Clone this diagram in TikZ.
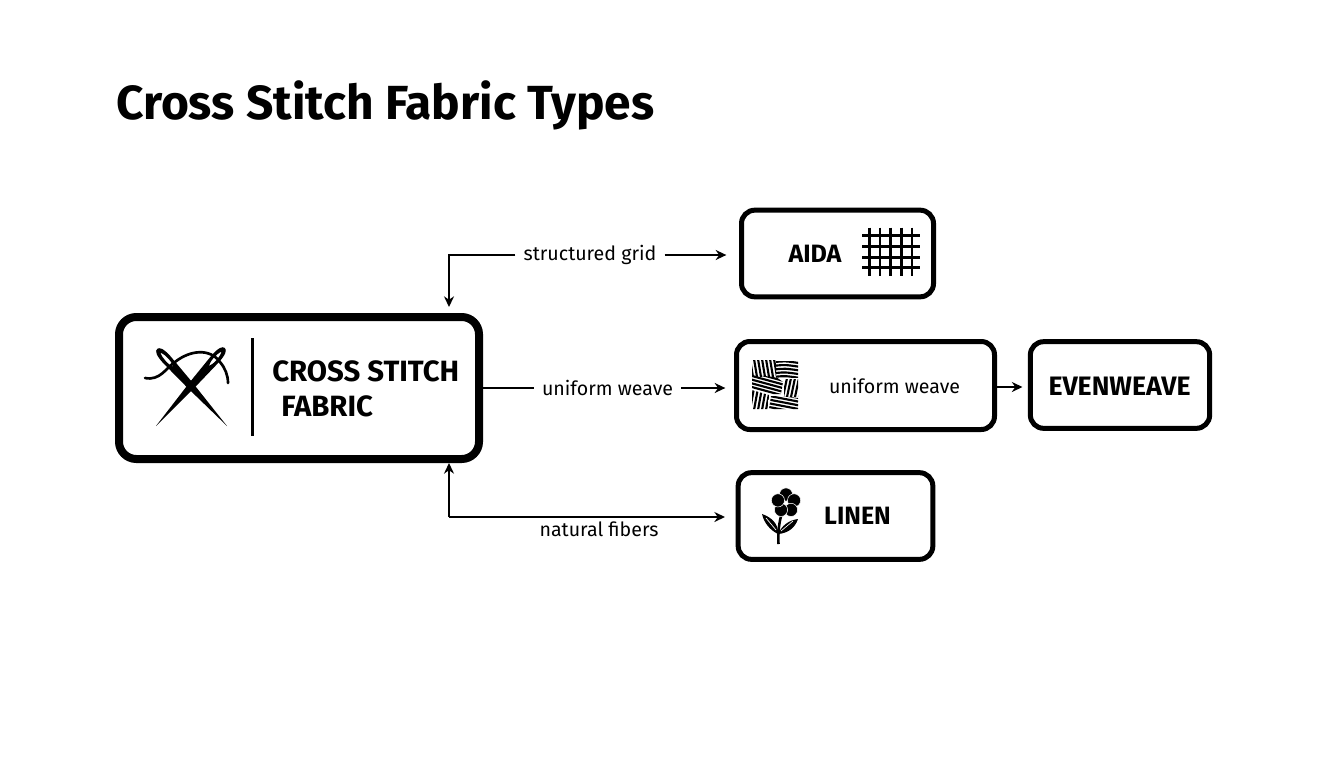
\documentclass[tikz,border=0pt]{standalone}
\usepackage{fontspec}
\setmainfont{Fira Sans}
\usetikzlibrary{arrows.meta}

\tikzset{
	box/.style={draw=black,fill=white,rounded corners=10pt,line width=3.75pt,inner sep=0pt},
	mainbox/.style={box,rounded corners=13pt,line width=6pt},
	title/.style={font=\bfseries\fontsize{35.9}{43}\selectfont,inner sep=0pt},
	boxtext/.style={font=\bfseries\fontsize{18.8}{22}\selectfont,inner sep=0pt},
	maintext/.style={font=\bfseries\fontsize{22}{26}\selectfont,inner sep=0pt},
	edgetext/.style={font=\fontsize{14.7}{18}\selectfont,inner sep=0pt},
	link/.style={draw=black,line width=1.5pt,-{Stealth[length=8pt,width=7.5pt]}},
	plainlink/.style={draw=black,line width=1.5pt},
	weaveline/.style={draw=black,line width=1.6pt},
	gridline/.style={draw=black,line width=1.9pt},
	needleshape/.pic={
		\fill[black,even odd rule] (0,0) -- (55,3.6) -- (90,5) .. controls (100,5) and (104,3) .. (104,0)
			.. controls (104,-3) and (100,-5) .. (90,-5) -- (55,-3.6) -- cycle
			(80,0) .. controls (84,2.2) and (94,2.6) .. (99,0) .. controls (94,-2.6) and (84,-2.2) .. (80,0) -- cycle;
	}
}

\begin{document}
\begin{tikzpicture}[x=0.75pt,y=-0.75pt]
	\useasboundingbox (0,0) rectangle (1344,768);

	\node[title,anchor=base west] (title) at (116,119) {Cross Stitch Fabric Types};

	% boxes
	\node[mainbox,minimum width=270pt,minimum height=106.5pt] (main) at (299,388) {};
	\node[box,minimum width=144pt,minimum height=65pt] (aida) at (837.5,253.5) {};
	\node[box,minimum width=193.5pt,minimum height=66pt] (uniform) at (865.5,385.5) {};
	\node[box,minimum width=134.5pt,minimum height=65pt] (evenweave) at (1120,385) {};
	\node[box,minimum width=146pt,minimum height=65pt] (linen) at (835.5,516) {};

	% box texts
	\node[maintext,anchor=west] (maintop) at (272,371) {CROSS STITCH};
	\node[maintext,anchor=west] (mainbottom) at (281,406) {FABRIC};
	\node[boxtext] (aidatext) at (815,254) {AIDA};
	\node[edgetext] (uniformtext) at (894.5,386) {uniform weave};
	\node[boxtext,font=\bfseries\fontsize{20}{24}\selectfont] (eventext) at (1119.5,386) {EVENWEAVE};
	\node[boxtext] (linentext) at (857.5,516) {LINEN};

	% edge labels
	\node[edgetext,inner xsep=6pt] (gridlabel) at (590,255) {structured grid};
	\node[edgetext,inner xsep=6pt] (weavelabel) at (607.5,388) {uniform weave};
	\node[edgetext] (fiberlabel) at (599,529) {natural fibers};
	\coordinate (maingrid) at (449,313);
	\coordinate (mainfiber) at (449,463);
	\coordinate (fibercorner) at (449,517);

	% connectors
	\draw[link,shorten >=4.5pt] (gridlabel.west) -| (maingrid);
	\draw[link,shorten >=9.5pt] (gridlabel.east) -- (aida.west |- gridlabel);
	\draw[plainlink] (main.east) -- (weavelabel.west);
	\draw[link,shorten >=6.5pt] (weavelabel.east) -- (uniform.west |- weavelabel);
	\draw[link,shorten >=4pt] (uniform.east |- 0,387) -- (evenweave.west |- 0,387);
	\draw[link] (fibercorner) -- (mainfiber);
	\draw[link,shorten >=8pt] (fibercorner) -- (linen.west |- fibercorner);

	% needles and thread
	\draw[black,line width=2pt,line cap=round] (145,378) .. controls (160,381) and (166,368) .. (175,362)
		.. controls (190,350) and (210,348) .. (220,362) .. controls (225,368) and (228,375) .. (228,383);
	\pic[rotate=132.2] at (227,426) {needleshape};
	\pic[rotate=48.6] at (156,426) {needleshape};
	\draw[black,line width=2.25pt] (252,338) -- (252,436);

	% grid icon
	\foreach \gx in {869.3,880,890.7,901.3,912}
		\draw[gridline] (\gx,227.5) -- (\gx,276);
	\foreach \gy in {235.7,246.7,257.3,267.7}
		\draw[gridline] (862,\gy) -- (920,\gy);

	% weave icon
	\begin{scope}
		\clip (752,360) rectangle (776,376);
		\foreach \i in {0,...,6}
			\draw[weaveline] (750+\i*4,359) -- (753+\i*4,377);
	\end{scope}
	\begin{scope}
		\clip (776,361) rectangle (798,377);
		\foreach \i in {0,...,4}
			\draw[weaveline] (775,362+\i*3.7) .. controls (785,361+\i*3.7) .. (799,363+\i*3.7);
	\end{scope}
	\begin{scope}
		\clip (752,375) -- (776,377) -- (783,382) -- (781,394) -- (769,394) -- (752,388) -- cycle;
		\foreach \i in {0,...,6}
			\draw[weaveline] (751,372+\i*3.7) -- (784,381+\i*3.7);
	\end{scope}
	\begin{scope}
		\clip (784,379) rectangle (798,396);
		\foreach \i in {0,...,4}
			\draw[weaveline] (783+\i*4,397) -- (787+\i*4,378);
	\end{scope}
	\begin{scope}
		\clip (752,390) -- (769,395) -- (768,409) -- (752,409) -- cycle;
		\foreach \i in {0,...,5}
			\draw[weaveline] (750+\i*4,410) -- (754+\i*4,388);
	\end{scope}
	\begin{scope}
		\clip (771,396) -- (782,396) -- (798,398) -- (798,409) -- (769,409) -- cycle;
		\foreach \i in {0,...,4}
			\draw[weaveline] (768,392+\i*3.7) -- (799,398+\i*3.7);
	\end{scope}

	% flower icon
	\draw[black,line width=1.9pt] (782,513) .. controls (779,522) and (778,532) .. (778.5,544);
	\fill[black] (778,534) .. controls (770,530) and (764,523) .. (762,514) .. controls (771,517) and (779,524) .. (778,534) -- cycle;
	\fill[black] (778.5,534) .. controls (781,526) and (789,520) .. (798,519) .. controls (795,528) and (788,533) .. (778.5,534) -- cycle;
	\draw[white,line width=0.5pt] (776,530) -- (766,518);
	\draw[white,line width=0.5pt] (781,531) -- (793,521);
	\foreach \ang in {-90,-18,54,126,198}
		\filldraw[black,draw=white,line width=0.4pt] (786,503) ++(\ang:8.5) circle (6.6);
	\fill[white] (786,503) circle (1.3);
\end{tikzpicture}
\end{document}
